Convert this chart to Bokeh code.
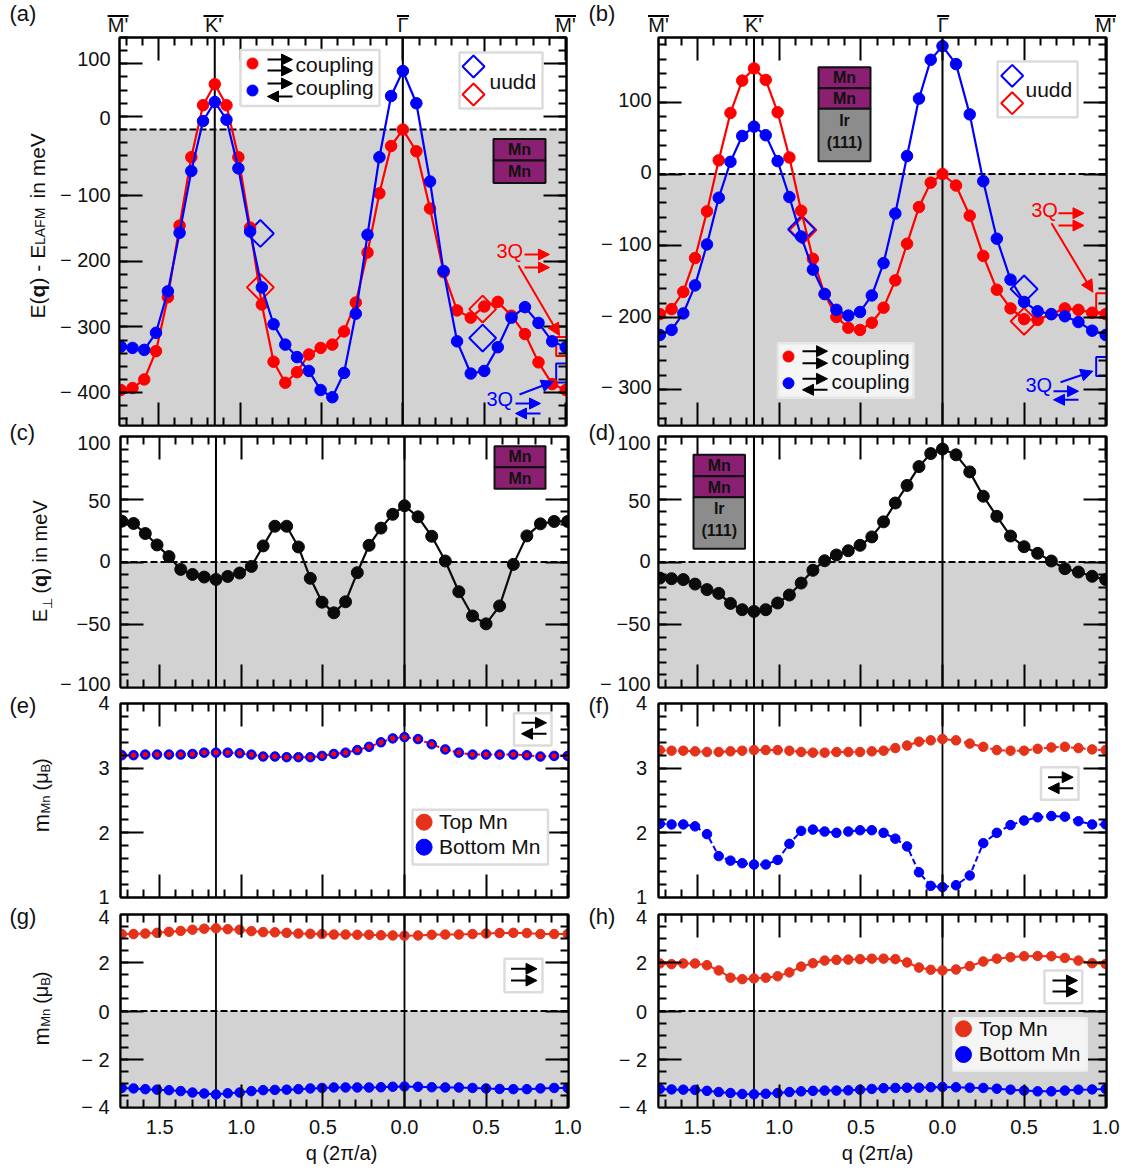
import math
from bokeh.plotting import figure
from bokeh.layouts import column, row
from bokeh.embed import file_html
from bokeh.resources import INLINE
from bokeh.models import (Range1d, LinearAxis, FixedTicker, Span, BoxAnnotation, Label,
                          Arrow, NormalHead)

# ---------------- data ----------------
q = [-1.732,-1.660,-1.588,-1.516,-1.443,-1.371,-1.299,-1.227,-1.155,-1.083,-1.010,-0.938,
     -0.866,-0.794,-0.722,-0.650,-0.577,-0.505,-0.433,-0.361,-0.289,-0.217,-0.144,-0.072,
     0.0,0.083,0.167,0.25,0.333,0.417,0.5,0.583,0.667,0.75,0.833,0.917,1.0]

a_red = [-396,-393,-380,-337,-255,-146,-42,37,69,37,-42,-149,-266,-353,-385,-369,-342,-332,-327,
         -307,-263,-187,-97,-25,0,-33,-120,-217,-275,-286,-269,-262,-283,-311,-354,-387,-396]
a_blue = [-330,-332,-335,-309,-246,-157,-63,13,42,15,-59,-155,-240,-296,-327,-346,-367,-396,-407,
          -370,-280,-160,-42,51,89,40,-79,-215,-322,-371,-367,-331,-286,-270,-294,-322,-331]
b_red = [-195,-188,-164,-117,-52,19,85,130,147,131,86,23,-51,-118,-167,-199,-214,-217,-207,-186,
         -148,-97,-46,-12,0,-16,-58,-114,-161,-187,-202,-203,-195,-187,-189,-193,-195]
b_blue = [-224,-217,-194,-155,-98,-33,17,53,66,54,18,-32,-87,-133,-167,-189,-197,-192,-169,-124,
          -55,25,105,159,178,153,83,-10,-90,-147,-178,-191,-195,-198,-206,-218,-224]
c_black = [32.5,30.7,22.7,13.6,4.3,-5.9,-9.9,-12,-13.9,-11.5,-8.8,-3.5,12.8,28.5,28.5,12,-13,-32,
           -40.5,-31.7,-8.5,13.3,27,38,44.8,36,20.5,0.8,-23.7,-43,-49.3,-35,-1.9,20.8,30.4,32.3,32.3]
d_black = [-12.8,-13.3,-14,-17.6,-22,-25,-33,-38,-39.4,-38,-32.7,-26.3,-16.8,-6.6,1,5.6,9,13.3,20,
           32,47,61,76,86.4,90,85.4,71.8,52.4,36.4,20.7,12.2,6.9,0.8,-5.3,-8,-11.4,-14]
e_both = [3.20,3.20,3.21,3.21,3.21,3.21,3.22,3.24,3.24,3.24,3.23,3.21,3.18,3.18,3.17,3.17,3.17,3.19,3.22,
          3.24,3.28,3.33,3.40,3.46,3.48,3.45,3.37,3.29,3.24,3.21,3.21,3.21,3.21,3.20,3.18,3.19,3.19]
f_top = [3.28,3.27,3.27,3.26,3.25,3.25,3.26,3.27,3.28,3.28,3.28,3.27,3.25,3.24,3.24,3.25,3.25,3.25,3.26,
         3.27,3.31,3.35,3.41,3.43,3.45,3.43,3.38,3.33,3.28,3.27,3.27,3.30,3.32,3.33,3.31,3.29,3.28]
f_bot = [2.14,2.13,2.13,2.10,1.98,1.64,1.57,1.53,1.51,1.51,1.58,1.83,2.03,2.05,2.02,2.00,2.02,2.04,2.04,
         2.00,1.91,1.79,1.39,1.18,1.16,1.19,1.34,1.84,2.00,2.12,2.19,2.24,2.26,2.25,2.18,2.13,2.13]
g_top = [3.19,3.19,3.21,3.24,3.28,3.32,3.37,3.41,3.43,3.39,3.37,3.31,3.27,3.26,3.24,3.21,3.20,3.19,3.17,
         3.17,3.16,3.16,3.14,3.13,3.12,3.13,3.16,3.17,3.17,3.19,3.21,3.23,3.24,3.23,3.19,3.19,3.19]
g_bot = [-3.19,-3.21,-3.24,-3.26,-3.28,-3.32,-3.38,-3.42,-3.46,-3.41,-3.38,-3.32,-3.28,-3.27,-3.26,-3.24,
         -3.21,-3.19,-3.17,-3.17,-3.17,-3.17,-3.16,-3.14,-3.13,-3.14,-3.16,-3.17,-3.17,-3.19,-3.21,-3.23,
         -3.24,-3.24,-3.21,-3.19,-3.19]
h_top = [1.97,1.94,1.97,1.97,1.90,1.68,1.38,1.32,1.35,1.38,1.44,1.60,1.84,1.98,2.09,2.12,2.13,2.15,2.17,
         2.17,2.15,2.01,1.80,1.71,1.68,1.72,1.86,2.05,2.17,2.23,2.27,2.28,2.27,2.20,2.09,1.98,1.95]
h_bot = [-3.23,-3.25,-3.26,-3.27,-3.31,-3.36,-3.40,-3.44,-3.45,-3.43,-3.40,-3.36,-3.33,-3.31,-3.30,-3.30,
         -3.29,-3.26,-3.23,-3.20,-3.19,-3.18,-3.18,-3.16,-3.15,-3.16,-3.18,-3.19,-3.22,-3.26,-3.30,-3.33,
         -3.33,-3.30,-3.26,-3.25,-3.23]

uudd_a_blue = ([-0.875, 0.49], [-158, -317])
uudd_a_red = ([-0.875, 0.49], [-240, -273])
uudd_b_blue = ([-0.864, 0.50], [-77, -160])
uudd_b_red = ([-0.855, 0.50], [-78, -205])
q3_a = ([1.0], [-330], [1.0], [-370])
q3_b = ([1.0], [-179], [1.0], [-268])

x_major = [-1.5, -1.0, -0.5, 0.0, 0.5, 1.0]
x_major_labels = ["1.5", "1.0", "0.5", "0.0", "0.5", "1.0"]
x_minor = [-1.7,-1.6,-1.4,-1.3,-1.2,-1.1,-0.9,-0.8,-0.7,-0.6,-0.4,-0.3,-0.2,-0.1,
           0.1,0.2,0.3,0.4,0.6,0.7,0.8,0.9]

RED, BLUE = "#ff0000", "#0000ff"
ORANGE = "#e5321a"
GRAY = "#d2d2d2"
PURPLE = "#8b1f72"
FONT = "Liberation Sans"
K = -1.155

PAGE_H = 1167
# transparent sheet over the whole page: all free texts and arrows are placed on it, in page pixels
OV = figure(width=1133, height=PAGE_H, x_range=Range1d(0, 1133), y_range=Range1d(PAGE_H, 0),
            output_backend="svg", toolbar_location=None, x_axis_location=None, y_axis_location=None,
            min_border=0, border_fill_color=None, background_fill_color=None, outline_line_color=None)
OV.grid.visible = False


# ---------------- helpers ----------------
def panel(box, xr, yr, ymaj, ymin, below=False):
    """box = (col-left, left, right, row-top, top, bottom, row-bottom, col-right)"""
    cl, l, r, rt, t, b, rb, cr = box
    p = figure(width=cr - cl, height=rb - rt, x_range=Range1d(*xr), y_range=Range1d(*yr),
               output_backend="svg", toolbar_location=None,
               x_axis_location=None, y_axis_location=None,
               min_border_left=l - cl, min_border_right=cr - r,
               min_border_top=t - rt, min_border_bottom=rb - b,
               border_fill_color=None, background_fill_color="white",
               outline_line_color="black", outline_line_width=2)
    p.grid.visible = False
    p.extra_x_ranges["px"] = Range1d(l, r)
    p.extra_y_ranges["px"] = Range1d(b, t)

    def style(ax):
        ax.axis_line_width = 2
        ax.major_tick_in = 23
        ax.major_tick_out = 0
        ax.minor_tick_in = 8
        ax.minor_tick_out = 0
        ax.major_tick_line_width = 2
        ax.minor_tick_line_width = 2
        ax.major_label_standoff = 0

    for side in ("above", "below"):
        ax = LinearAxis(ticker=FixedTicker(ticks=x_major, minor_ticks=x_minor))
        style(ax)
        if side == "below" and below:
            ax.major_label_overrides = dict(zip(x_major, x_major_labels))
            ax.major_label_standoff = 12
            ax.major_label_text_font = FONT
            ax.major_label_text_font_size = "20px"
            ax.major_label_text_color = "#111111"
        else:
            ax.major_label_overrides = {v: "" for v in x_major}
            ax.major_label_text_font_size = "0px"
        p.add_layout(ax, side)
    for side in ("left", "right"):
        ax = LinearAxis(ticker=FixedTicker(ticks=ymaj, minor_ticks=ymin))
        style(ax)
        ax.major_label_overrides = {v: "" for v in ymaj}
        ax.major_label_text_font_size = "0px"
        p.add_layout(ax, side)
    return p


def txt(x, y, s, size=20, color="#111111", align="left", base="middle", style="normal", angle=0.0):
    OV.add_layout(Label(x=x, y=y if angle else y - 1, text=s, text_font=FONT,
                        text_font_size=f"{size}px", text_color=color, text_align=align,
                        text_baseline=base, text_font_style=style, angle=angle, angle_units="rad"))


def vtxt(x, y, s, size=20, style="normal"):
    txt(x - 8.5, y, s, size=size, base="alphabetic", style=style, angle=math.pi / 2)


def arrow(x0, y0, x1, y1, color="black", size=11, w=2):
    OV.add_layout(Arrow(x_start=x0, y_start=y0, x_end=x1, y_end=y1, line_color=color, line_width=w,
                        end=NormalHead(size=size, fill_color=color, line_color=color, line_width=1)))


def bar(x0, x1, y, w=2):
    OV.add_layout(Arrow(x_start=x0, y_start=y, x_end=x1, y_end=y, line_color="black", line_width=w, end=None))


def icon(x0, x1, y0, y1, kind, color="black"):
    arrow(x0, y0, x1, y0, color)
    if kind == "par":
        arrow(x0, y1, x1, y1, color)
    else:
        arrow(x1, y1, x0, y1, color)


def rect(p, x0, x1, y0, y1, fill, line="#dcdcdc", w=2.5, alpha=1.0):
    p.add_layout(BoxAnnotation(left=x0, right=x1, top=y0, bottom=y1, x_range_name="px", y_range_name="px",
                               fill_color=fill, fill_alpha=alpha, line_color=line, line_width=w,
                               line_alpha=1.0, level="annotation"))


def dot(p, x, y, color, size):
    p.scatter([x], [y], size=size, color=color, x_range_name="px", y_range_name="px", level="overlay")


def diamond(p, x, y, color, size):
    p.scatter([x], [y], marker="square", angle=math.pi / 4, size=size, fill_color=None, line_color=color,
              line_width=2, x_range_name="px", y_range_name="px", level="overlay")


def base(p, shade=True, zero=True, lw=2):
    if shade:
        p.add_layout(BoxAnnotation(top=0, fill_color=GRAY, fill_alpha=1.0, line_alpha=0, level="underlay"))
    p.add_layout(Span(location=K, dimension="height", line_color="black", line_width=lw, level="underlay"))
    p.add_layout(Span(location=0, dimension="height", line_color="black", line_width=lw, level="underlay"))
    if zero:
        p.add_layout(Span(location=0, dimension="width", line_color="black", line_width=2, line_dash="7 3",
                          level="underlay"))


def curve(p, ys, color, ms, dash="solid", lw=2.2):
    p.line(q, ys, line_color=color, line_width=lw, line_dash=dash)
    p.scatter(q, ys, size=ms, color=color)


def ylabels(x, items):
    for s, y in items:
        txt(x, y, s, align="right")


def toplabels(items):
    for s, x, w in items:
        txt(x, 25, s, align="center")
        bar(x - w / 2, x + w / 2, 15.5)


def stack(p, x0, x1, rows):
    for (y0, y1, fill, texts) in rows:
        rect(p, x0, x1, y0, y1, fill, line="#111111", w=2)
        for s, yc in texts:
            txt((x0 + x1) / 2, yc, s, size=16, color="#111111", align="center", style="bold")


XR = (-1.74, 1.005)
LB = 584          # split between the two columns
Y_ROW1 = (0, 37, 425, 430)
Y_ROW2 = (430, 436, 687, 693)
Y_ROW3 = (693, 703, 897, 906)
Y_ROW4 = (906, 914, 1107, PAGE_H)


def bx(col, yr):
    rt, t, b, rb = yr
    if col == "a":
        return (0, 119, 566, rt, t, b, rb, LB)
    if col == "l":
        return (0, 120, 568, rt, t, b, rb, LB)
    return (LB, 658, 1106, rt, t, b, rb, 1125)


def rng(a, b, s):
    out, v = [], a
    while v <= b + 1e-9:
        out.append(round(v, 3))
        v += s
    return out


# ---------------- (a) ----------------
pa = panel(bx("a", Y_ROW1), XR, (-450, 140), [100, 20, -100, -200, -300, -400], rng(-440, 140, 20))
base(pa)
pa.scatter(*uudd_a_blue, marker="square", angle=math.pi / 4, size=19, fill_color=None, line_color=BLUE, line_width=2)
pa.scatter(*uudd_a_red, marker="square", angle=math.pi / 4, size=19, fill_color=None, line_color=RED, line_width=2)
pa.scatter(q3_a[0], q3_a[1], marker="square", size=19, fill_color=None, line_color=RED, line_width=2)
pa.scatter(q3_a[2], q3_a[3], marker="square", size=19, fill_color=None, line_color=BLUE, line_width=2)
curve(pa, a_red, RED, 11.5)
curve(pa, a_blue, BLUE, 11.5)
toplabels([("M'", 117.6, 21), ("K'", 213, 20), ("Γ", 402.5, 12), ("M'", 565, 21)])
ylabels(110, [("100", 59.3), ("0", 118.3), ("− 100", 195), ("− 200", 260.7), ("− 300", 327.3), ("− 400", 392.7)])
txt(9, 14.3, "(a)", 22)
rect(pa, 240, 379, 49.5, 105.5, "white")
dot(pa, 252, 63, RED, 11)
dot(pa, 252, 90, BLUE, 11)
icon(267, 292, 59, 70, "par")
icon(267, 292, 83, 96, "anti")
txt(295, 65, "coupling", 21)
txt(295, 88, "coupling", 21)
rect(pa, 459, 542, 52, 108, "white")
diamond(pa, 473, 66, BLUE, 15.5)
diamond(pa, 473, 94, RED, 15.5)
txt(489, 82, "uudd", 21)
stack(pa, 493, 545, [(138.5, 160, PURPLE, [("Mn", 150)]), (160, 182.5, PURPLE, [("Mn", 172)])])
txt(496, 251, "3Q", color=RED)
icon(524, 549, 254, 267, "par", RED)
arrow(518, 265, 559, 335, RED, 12)
txt(486, 399, "3Q", color=BLUE)
icon(515, 540, 403, 413, "anti", BLUE)
arrow(519, 394, 553, 381, BLUE, 12)
vtxt(45, 318, "E(", 21)
vtxt(45, 297, "q", 21, "bold")
vtxt(45, 284, ") - E", 21)
vtxt(48, 244.5, "LAFM", 14)
vtxt(45, 198, "in meV", 21)

# ---------------- (b) ----------------
pb = panel(bx("r", Y_ROW1), XR, (-350, 190), [100, 0, -100, -200, -300], rng(-340, 180, 20))
base(pb)
pb.scatter(*uudd_b_red, marker="square", angle=math.pi / 4, size=19, fill_color=None, line_color=RED, line_width=2)
pb.scatter(*uudd_b_blue, marker="square", angle=math.pi / 4, size=19, fill_color=None, line_color=BLUE, line_width=2)
pb.scatter(q3_b[0], q3_b[1], marker="square", size=19, fill_color=None, line_color=RED, line_width=2)
pb.scatter(q3_b[2], q3_b[3], marker="square", size=19, fill_color=None, line_color=BLUE, line_width=2)
curve(pb, b_red, RED, 11.5)
curve(pb, b_blue, BLUE, 11.5)
toplabels([("M'", 658, 21), ("K'", 753, 20), ("Γ", 942.7, 12), ("M'", 1105, 21)])
ylabels(651, [("100", 100), ("0", 172.3), ("− 100", 244.3), ("− 200", 316.7), ("− 300", 387.3)])
txt(588, 14.3, "(b)", 22)
stack(pb, 818, 870, [(66.7, 87.7, PURPLE, [("Mn", 77.7)]), (87.7, 108.3, PURPLE, [("Mn", 99)]),
                     (108.3, 160.7, "#8c8c8c", [("Ir", 120.7), ("(111)", 142.7)])])
rect(pb, 997, 1077, 61, 116.7, "white")
diamond(pb, 1011.7, 75.3, BLUE, 15.5)
diamond(pb, 1011.7, 102.7, RED, 15.5)
txt(1025, 90, "uudd", 21)
rect(pb, 777.5, 913, 342.7, 397.3, "#f5f5f5", line="#e6e6e6")
dot(pb, 788, 356, RED, 11)
dot(pb, 788, 382.7, BLUE, 11)
icon(802, 827, 350.7, 362.7, "par")
icon(802, 827, 378.3, 389.3, "anti")
txt(831, 357.7, "coupling", 21)
txt(831, 381.7, "coupling", 21)
txt(1030.7, 210, "3Q", color=RED)
icon(1058, 1083.5, 212.7, 225, "par", RED)
arrow(1051, 222.7, 1092.4, 291.7, RED, 12)
txt(1025, 385.7, "3Q", color=BLUE)
icon(1053, 1078, 390.7, 399.3, "anti", BLUE)
arrow(1060, 381.7, 1092.4, 370.7, BLUE, 12)

# ---------------- (c) ----------------
pc = panel(bx("l", Y_ROW2), XR, (-100, 100), [50, 0, -50], rng(-90, 90, 10))
base(pc)
curve(pc, c_black, "#0a0a0a", 12)
ylabels(110, [("100", 443.3), ("50", 501.7), ("0", 561.7), ("−50", 624.3), ("− 100", 684)])
txt(9, 432.7, "(c)", 22)
stack(pc, 494, 545, [(445.7, 466.7, PURPLE, [("Mn", 457)]), (466.7, 488.3, PURPLE, [("Mn", 479)])])
vtxt(48, 621.7, "E", 20)
vtxt(55, 608, "⊥", 13)
vtxt(48, 593, "(", 20)
vtxt(48, 586.5, "q", 20, "bold")
vtxt(48, 574, ")", 20)
vtxt(48, 562, "in meV", 20)

# ---------------- (d) ----------------
pd_ = panel(bx("r", Y_ROW2), XR, (-100, 100), [50, 0, -50], rng(-90, 90, 10))
base(pd_)
curve(pd_, d_black, "#0a0a0a", 12)
ylabels(650, [("100", 443.3), ("50", 501.7), ("0", 561.7), ("−50", 624.3), ("− 100", 684)])
txt(588, 432.7, "(d)", 22)
stack(pd_, 693, 744.5, [(454.3, 475.7, PURPLE, [("Mn", 465.7)]), (475.7, 496.7, PURPLE, [("Mn", 487.7)]),
                        (496.7, 548.3, "#8c8c8c", [("Ir", 509.3), ("(111)", 531)])])

# ---------------- (e) ----------------
pe = panel(bx("l", Y_ROW3), XR, (1, 4), [3, 2], rng(1.2, 3.8, 0.2))
base(pe, shade=False, zero=False, lw=1.8)
pe.line(q, e_both, line_color=RED, line_width=2, line_dash="4 2")
pe.scatter(q, e_both, size=9.5, color=BLUE)
pe.scatter(q, e_both, size=4.5, color=RED)
ylabels(109, [("4", 703.3), ("3", 768.3), ("2", 833.3), ("1", 897)])
txt(9, 706, "(e)", 22)
rect(pe, 513.5, 551, 712.7, 745, "white")
icon(521, 546, 722.3, 733.3, "anti")
rect(pe, 412, 547.5, 809.3, 864, "white")
dot(pe, 423.6, 821.7, ORANGE, 16)
dot(pe, 423.6, 846.7, BLUE, 16)
txt(438.4, 821.7, "Top Mn", 21)
txt(438.4, 846.7, "Bottom Mn", 21)
vtxt(49, 831.7, "m", 22)
vtxt(53, 813, "Mn", 13)
vtxt(49, 790, "(μ", 20)
vtxt(53, 772, "B", 13)
vtxt(49, 764.5, ")", 20)

# ---------------- (f) ----------------
pf = panel(bx("r", Y_ROW3), XR, (1, 4), [3, 2], rng(1.2, 3.8, 0.2))
base(pf, shade=False, zero=False, lw=1.8)
curve(pf, f_top, ORANGE, 9.5, dash="6 3", lw=2)
curve(pf, f_bot, BLUE, 9.5, dash="6 3", lw=2)
ylabels(646.5, [("4", 703.3), ("3", 768.3), ("2", 833.3), ("1", 897)])
txt(588, 706, "(f)", 22)
rect(pf, 1040.5, 1078, 766.7, 799.3, "white")
icon(1047.6, 1072.7, 776.7, 787.7, "anti")

# ---------------- (g) ----------------
pg = panel(bx("l", Y_ROW4), XR, (-4, 4), [2, 0, -2], rng(-3.5, 3.5, 0.5), below=True)
base(pg, lw=1.8)
curve(pg, g_top, ORANGE, 9.5, lw=2)
curve(pg, g_bot, BLUE, 9.5, lw=2)
ylabels(109, [("4", 917.7), ("2", 963.3), ("0", 1012.3), ("− 2", 1060.7), ("− 4", 1107.7)])
txt(9, 916.7, "(g)", 22)
rect(pg, 504, 542, 958.3, 991.7, "white")
icon(510.5, 536.5, 968.3, 980, "par")
txt(341, 1153, "q (2π/a)", align="center")
vtxt(49, 1045, "m", 22)
vtxt(53, 1026.3, "Mn", 13)
vtxt(49, 1003.3, "(μ", 20)
vtxt(53, 985.3, "B", 13)
vtxt(49, 977.8, ")", 20)

# ---------------- (h) ----------------
ph = panel(bx("r", Y_ROW4), XR, (-4, 4), [2, 0, -2], rng(-3.5, 3.5, 0.5), below=True)
base(ph, lw=1.8)
curve(ph, h_top, ORANGE, 9.5, lw=2)
curve(ph, h_bot, BLUE, 9.5, lw=2)
ylabels(646.5, [("4", 917.7), ("2", 963.3), ("0", 1012.3), ("− 2", 1060.7), ("− 4", 1107.7)])
txt(588, 916.7, "(h)", 22)
rect(ph, 1044, 1081.7, 970, 1002.7, "white")
icon(1052, 1077, 980, 991, "par")
rect(ph, 953, 1086.3, 1017.7, 1070, "#f5f5f5", line="#f0f0f0")
dot(ph, 963, 1028.3, ORANGE, 16)
dot(ph, 963, 1054, BLUE, 16)
txt(978.3, 1028.5, "Top Mn", 21)
txt(978.3, 1053.5, "Bottom Mn", 21)
txt(877, 1153, "q (2π/a)", align="center")

OV.margin = (-PAGE_H, 0, 0, 0)
layout = column(
    row(pa, pb, spacing=0),
    row(pc, pd_, spacing=0),
    row(pe, pf, spacing=0),
    row(pg, ph, spacing=0),
    OV,
    spacing=0,
)
open("out.html", "w").write(file_html(layout, INLINE))
